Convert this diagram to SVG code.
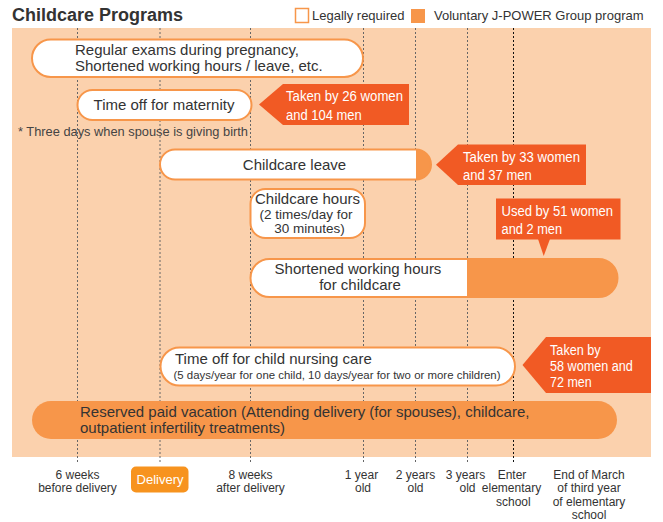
<svg xmlns="http://www.w3.org/2000/svg" width="663" height="522" viewBox="0 0 663 522">
<style>
text{font-family:"Liberation Sans",Arial,sans-serif;fill:#333}
.t15{font-size:15px}
.t13{font-size:13px}
.t12{font-size:12px}
.c14{font-size:14px;fill:#fff}
.mid{text-anchor:middle}
.pill{fill:#fff;stroke:#F7964A;stroke-width:2}
.vol{fill:#F7964A;stroke:#F7964A;stroke-width:2}
.call{fill:#F15A24}
.grid line{stroke:#666;stroke-width:1;stroke-dasharray:2 2}
</style>
<rect x="0" y="0" width="663" height="522" fill="#fff"/>
<g id="title"><text x="12" y="21" style="font-size:18px;font-weight:bold">Childcare Programs</text></g>
<g id="legend">
<rect x="295.5" y="8.5" width="13" height="14" fill="#fff" stroke="#F7964A" stroke-width="1.5"/>
<text x="312" y="20" class="t13">Legally required</text>
<rect x="411" y="9" width="14" height="14" fill="#F7964A"/>
<text x="434" y="20" class="t13">Voluntary J-POWER Group program</text>
</g>
<rect id="background" x="12" y="28" width="639" height="429" fill="#FBD1AD"/>
<g id="connectors" class="grid">
<line x1="77.5" y1="28" x2="77.5" y2="463"/>
<line x1="160" y1="28" x2="160" y2="463"/>
<line x1="250.5" y1="28" x2="250.5" y2="463"/>
<line x1="363.5" y1="28" x2="363.5" y2="463"/>
<line x1="415.5" y1="28" x2="415.5" y2="463"/>
<line x1="467.5" y1="28" x2="467.5" y2="463"/>
<line x1="513.5" y1="28" x2="513.5" y2="463" style="stroke:#111"/>
</g>
<g id="regular-exams">
<rect class="pill" x="32" y="39.5" width="331" height="37.5" rx="18.75"/>
<text x="75" y="55" class="t15">Regular exams during pregnancy,</text>
<text x="75" y="71" class="t15">Shortened working hours / leave, etc.</text>
</g>
<g id="maternity">
<rect class="pill" x="77.5" y="90" width="174" height="30" rx="15"/>
<text x="164" y="110" class="t15 mid">Time off for maternity</text>
</g>
<g id="callout-maternity">
<polygon class="call" points="259,104.5 283,84 409,84 409,125 283,125"/>
<text x="286" y="101" class="c14" textLength="117" lengthAdjust="spacingAndGlyphs">Taken by 26 women</text>
<text x="286" y="119.5" class="c14" textLength="75.7" lengthAdjust="spacingAndGlyphs">and 104 men</text>
</g>
<g id="footnote"><text x="18" y="136" style="font-size:13.5px;fill:#444" textLength="230" lengthAdjust="spacingAndGlyphs">* Three days when spouse is giving birth</text></g>
<g id="childcare-leave">
<rect class="vol" x="160" y="149.5" width="271" height="30" rx="15"/>
<path d="M416,150.5 H175 A14,14 0 0 0 175,178.5 H416 Z" fill="#fff"/>
<text x="294.5" y="169.5" class="t15 mid">Childcare leave</text>
</g>
<g id="callout-leave">
<polygon class="call" points="436,164.75 458,144.5 586,144.5 586,185 458,185"/>
<text x="463" y="161.5" class="c14" textLength="117" lengthAdjust="spacingAndGlyphs">Taken by 33 women</text>
<text x="463" y="179.5" class="c14" textLength="68.7" lengthAdjust="spacingAndGlyphs">and 37 men</text>
</g>
<g id="childcare-hours">
<rect class="pill" x="250.5" y="189" width="114.5" height="49" rx="15"/>
<text x="307.5" y="204" class="t15 mid">Childcare hours</text>
<text x="306" y="219" class="mid" style="font-size:13.5px">(2 times/day for</text>
<text x="309.5" y="233" class="mid" style="font-size:13.5px">30 minutes)</text>
</g>
<g id="callout-shortened">
<rect class="call" x="496" y="198.5" width="124.5" height="41"/>
<polygon class="call" points="538,239 550,239 543.7,256"/>
<text x="501.5" y="216" class="c14" textLength="111.6" lengthAdjust="spacingAndGlyphs">Used by 51 women</text>
<text x="501.5" y="233.5" class="c14" textLength="60.6" lengthAdjust="spacingAndGlyphs">and 2 men</text>
</g>
<g id="shortened-hours">
<rect class="vol" x="250.5" y="259" width="367" height="38" rx="19"/>
<path d="M467,260 H269.5 A18,18 0 0 0 269.5,296 H467 Z" fill="#fff"/>
<text x="358" y="274" class="t15 mid">Shortened working hours</text>
<text x="360" y="289.5" class="t15 mid">for childcare</text>
</g>
<g id="nursing-care">
<rect class="pill" x="160.5" y="347.5" width="354.5" height="38" rx="19"/>
<text x="175" y="363.5" class="t15">Time off for child nursing care</text>
<text x="173.5" y="378.5" style="font-size:11.5px" textLength="327" lengthAdjust="spacingAndGlyphs">(5 days/year for one child, 10 days/year for two or more children)</text>
</g>
<g id="callout-nursing">
<polygon class="call" points="522.5,365 546,337 651,337 651,393 546,393"/>
<text x="550" y="355" class="c14" textLength="50.7" lengthAdjust="spacingAndGlyphs">Taken by</text>
<text x="550" y="371" class="c14" textLength="82.7" lengthAdjust="spacingAndGlyphs">58 women and</text>
<text x="550" y="386.5" class="c14" textLength="41.7" lengthAdjust="spacingAndGlyphs">72 men</text>
</g>
<g id="reserved-vacation">
<rect x="32" y="401" width="585" height="38" rx="19" fill="#F7964A"/>
<text x="80" y="416.5" class="t15">Reserved paid vacation (Attending delivery (for spouses), childcare,</text>
<text x="80" y="432.5" class="t15">outpatient infertility treatments)</text>
</g>
<g id="axis-labels" class="t12">
<text x="77.5" y="478.5" class="t12 mid">6 weeks</text>
<text x="77.5" y="492" class="t12 mid">before delivery</text>
<g id="delivery">
<rect x="131" y="466.5" width="57.5" height="26" rx="5" fill="#F7931E"/>
<text x="160" y="484" class="t13 mid" style="fill:#fff">Delivery</text>
</g>
<text x="250.5" y="478.5" class="t12 mid">8 weeks</text>
<text x="250.5" y="492" class="t12 mid">after delivery</text>
<text x="361.5" y="478.5" class="t12 mid">1 year</text>
<text x="363" y="492" class="t12 mid">old</text>
<text x="415.5" y="478.5" class="t12 mid">2 years</text>
<text x="415.5" y="492" class="t12 mid">old</text>
<text x="465.5" y="478.5" class="t12 mid">3 years</text>
<text x="467.5" y="492" class="t12 mid">old</text>
<text x="512" y="478.5" class="t12 mid">Enter</text>
<text x="511.5" y="492" class="t12 mid">elementary</text>
<text x="513.3" y="505.5" class="t12 mid">school</text>
<text x="589" y="478.5" class="t12 mid">End of March</text>
<text x="589" y="492" class="t12 mid">of third year</text>
<text x="589" y="505.5" class="t12 mid">of elementary</text>
<text x="589" y="518.5" class="t12 mid">school</text>
</g>
</svg>
